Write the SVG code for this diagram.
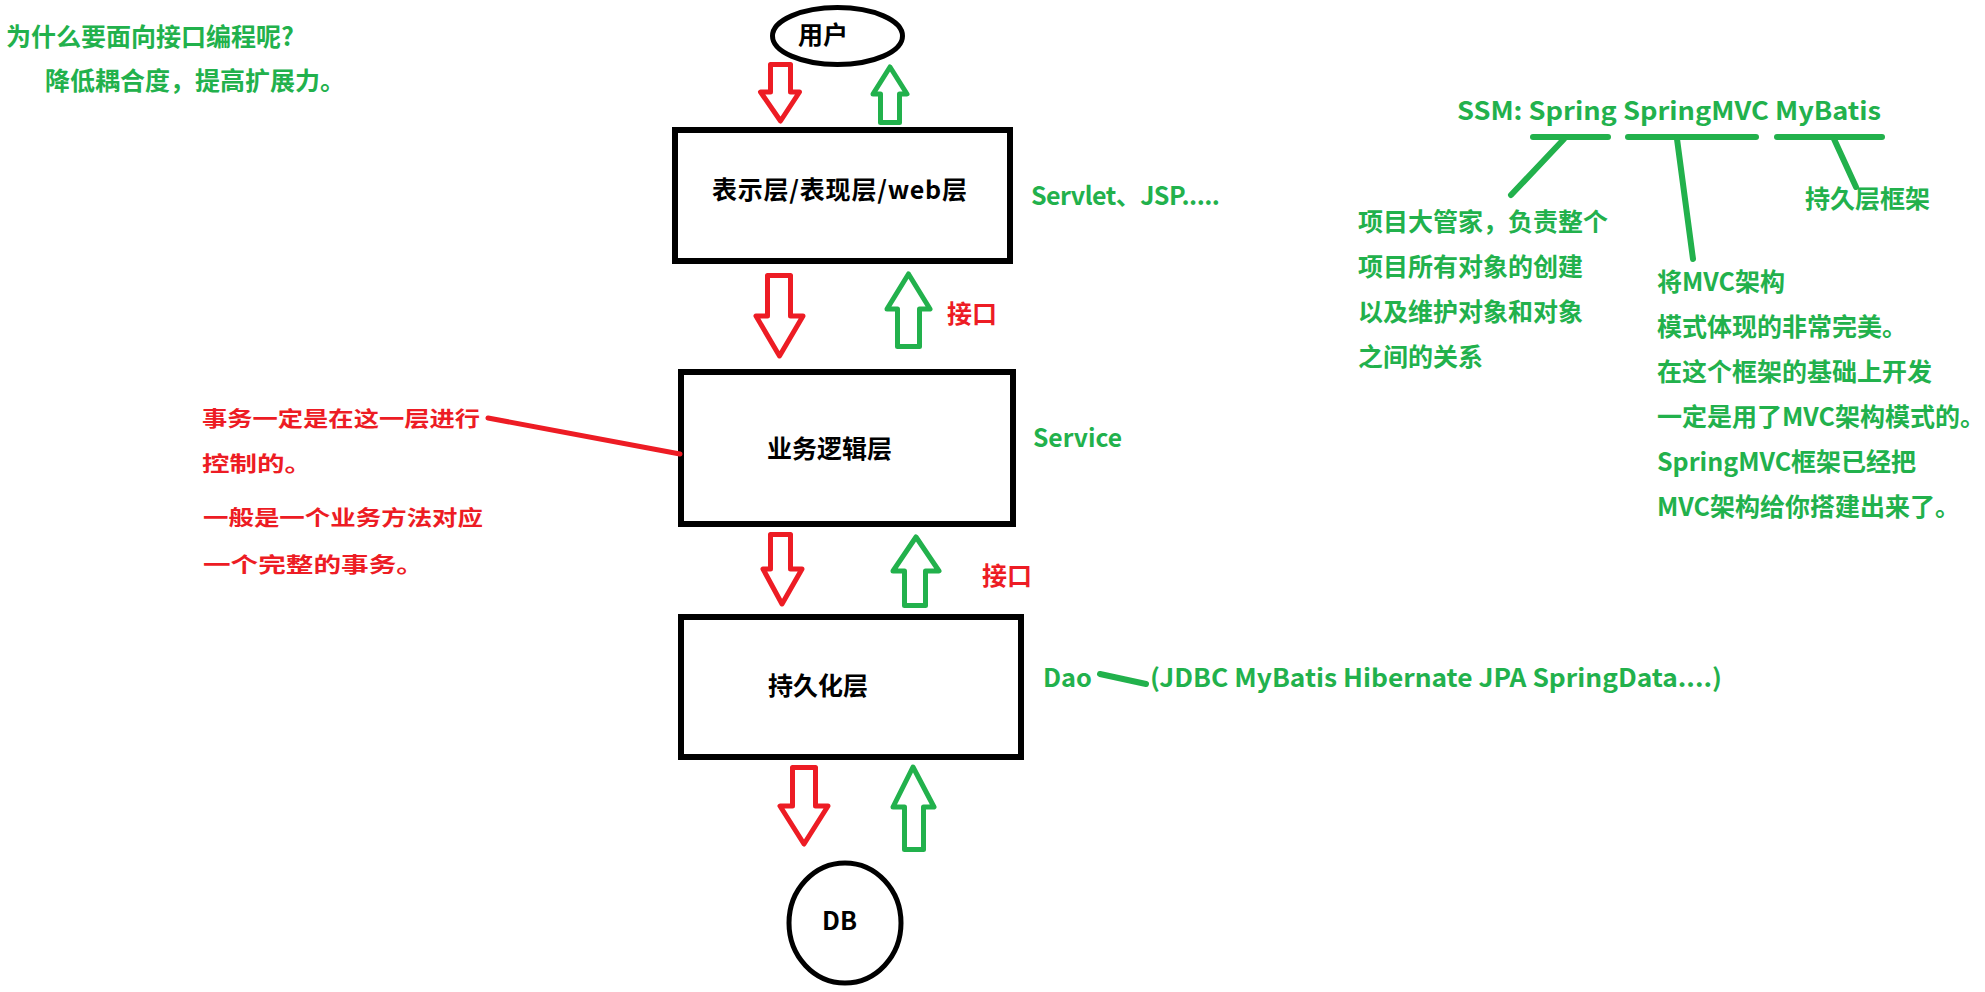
<svg xmlns="http://www.w3.org/2000/svg" width="1985" height="992" viewBox="0 0 1985 992">
<style>
text{font-family:"Noto Sans CJK SC","Noto Sans",sans-serif;font-weight:bold}
.g{fill:#22b14c;font-size:25px}
.r{fill:#ed1c24;font-size:21px}
.r2{fill:#ed1c24;font-size:25px}
.k{fill:#000;font-size:25px}
.box{fill:#fff;stroke:#000;stroke-width:6}
.ell{fill:#fff;stroke:#000;stroke-width:5}
.ar{fill:#fff;stroke:#ed1c24;stroke-width:5;stroke-linejoin:round}
.ag{fill:#fff;stroke:#22b14c;stroke-width:5;stroke-linejoin:round}
.lg{stroke:#22b14c;stroke-width:6;stroke-linecap:round;fill:none}
.lr{stroke:#ed1c24;stroke-width:5;stroke-linecap:round;fill:none}
</style>
<rect width="1985" height="992" fill="#fff"/>

<g id="title-note">
<text class="g" x="6" y="46">为什么要面向接口编程呢?</text>
<text class="g" x="45" y="90">降低耦合度，提高扩展力。</text>
</g>

<g id="node-user">
<ellipse class="ell" cx="837.5" cy="36" rx="65" ry="28.5"/>
<text class="k" x="798" y="44">用户</text>
</g>

<g id="node-web">
<rect class="box" x="675" y="130" width="335" height="131"/>
<text class="k" x="712" y="199" textLength="255" lengthAdjust="spacing">表示层/表现层/web层</text>
</g>

<g id="node-service">
<rect class="box" x="681" y="372" width="332" height="152"/>
<text class="k" x="767" y="458">业务逻辑层</text>
</g>

<g id="node-dao">
<rect class="box" x="681" y="617" width="340" height="140"/>
<text class="k" x="768" y="695">持久化层</text>
</g>

<g id="node-db">
<ellipse class="ell" cx="845" cy="923" rx="56" ry="60" stroke-width="6"/>
<text class="k" x="822" y="930" textLength="35" lengthAdjust="spacingAndGlyphs">DB</text>
</g>

<g id="connectors">
<polygon class="ar" points="770.5,64.5 790.5,64.5 790.5,92 799.5,92 780.5,121 760.5,92 770.5,92"/>
<polygon class="ag" points="890,67 907,94 899.5,94 899.5,122.5 880.5,122.5 880.5,94 873,94"/>
<polygon class="ar" points="767.5,275.5 790.5,275.5 790.5,316 803,316 779.5,356 756,316 767.5,316"/>
<polygon class="ag" points="908.5,274 930,309 919.5,309 919.5,346.5 897.5,346.5 897.5,309 887,309"/>
<polygon class="ar" points="770.5,534.5 790.5,534.5 790.5,569 802,569 782,604 763,569 770.5,569"/>
<polygon class="ag" points="916,537 939,571 925.5,571 925.5,605.5 904.5,605.5 904.5,571 893,571"/>
<polygon class="ar" points="792.5,767.5 815.5,767.5 815.5,806 828,806 804,844 780,806 792.5,806"/>
<polygon class="ag" points="913,767 934,807 923.5,807 923.5,849.5 904.5,849.5 904.5,807 893,807"/>
<line class="lr" x1="488" y1="418" x2="680" y2="454"/>
<line class="lg" x1="1100" y1="674" x2="1146" y2="684"/>
<line class="lg" x1="1533" y1="137" x2="1608" y2="137"/>
<line class="lg" x1="1628" y1="137" x2="1756" y2="137"/>
<line class="lg" x1="1777" y1="137" x2="1882" y2="137"/>
<line class="lg" x1="1564" y1="139" x2="1511" y2="195"/>
<line class="lg" x1="1677" y1="139" x2="1693" y2="259"/>
<line class="lg" x1="1834" y1="139" x2="1856" y2="187"/>
</g>

<g id="labels">
<text class="g" x="1031" y="205" textLength="189" lengthAdjust="spacing">Servlet、JSP.....</text>
<text class="r2" x="947" y="323">接口</text>
<text class="g" x="1033" y="447" textLength="89" lengthAdjust="spacingAndGlyphs">Service</text>
<text class="r2" x="982" y="585">接口</text>
<text class="g" x="1043" y="687" textLength="49" lengthAdjust="spacingAndGlyphs">Dao</text>
<text class="g" x="1150" y="687" textLength="572" lengthAdjust="spacingAndGlyphs">(JDBC MyBatis Hibernate JPA SpringData....)</text>
</g>

<g id="note-transaction">
<text class="r" x="202" y="426" textLength="278" lengthAdjust="spacingAndGlyphs">事务一定是在这一层进行</text>
<text class="r" x="202" y="471" textLength="110" lengthAdjust="spacingAndGlyphs">控制的。</text>
<text class="r" x="203" y="525" textLength="280" lengthAdjust="spacingAndGlyphs">一般是一个业务方法对应</text>
<text class="r" x="203" y="572" textLength="221" lengthAdjust="spacingAndGlyphs">一个完整的事务。</text>
</g>

<g id="note-ssm">
<text class="g" x="1457" y="120" textLength="424" lengthAdjust="spacingAndGlyphs">SSM: Spring SpringMVC MyBatis</text>
<text class="g" x="1358" y="231">项目大管家，负责整个</text>
<text class="g" x="1358" y="276">项目所有对象的创建</text>
<text class="g" x="1358" y="321">以及维护对象和对象</text>
<text class="g" x="1358" y="366">之间的关系</text>
<text class="g" x="1805" y="208">持久层框架</text>
<text class="g" x="1657" y="291">将MVC架构</text>
<text class="g" x="1657" y="336">模式体现的非常完美。</text>
<text class="g" x="1657" y="381">在这个框架的基础上开发</text>
<text class="g" x="1657" y="426">一定是用了MVC架构模式的。</text>
<text class="g" x="1657" y="471">SpringMVC框架已经把</text>
<text class="g" x="1657" y="516">MVC架构给你搭建出来了。</text>
</g>
</svg>
